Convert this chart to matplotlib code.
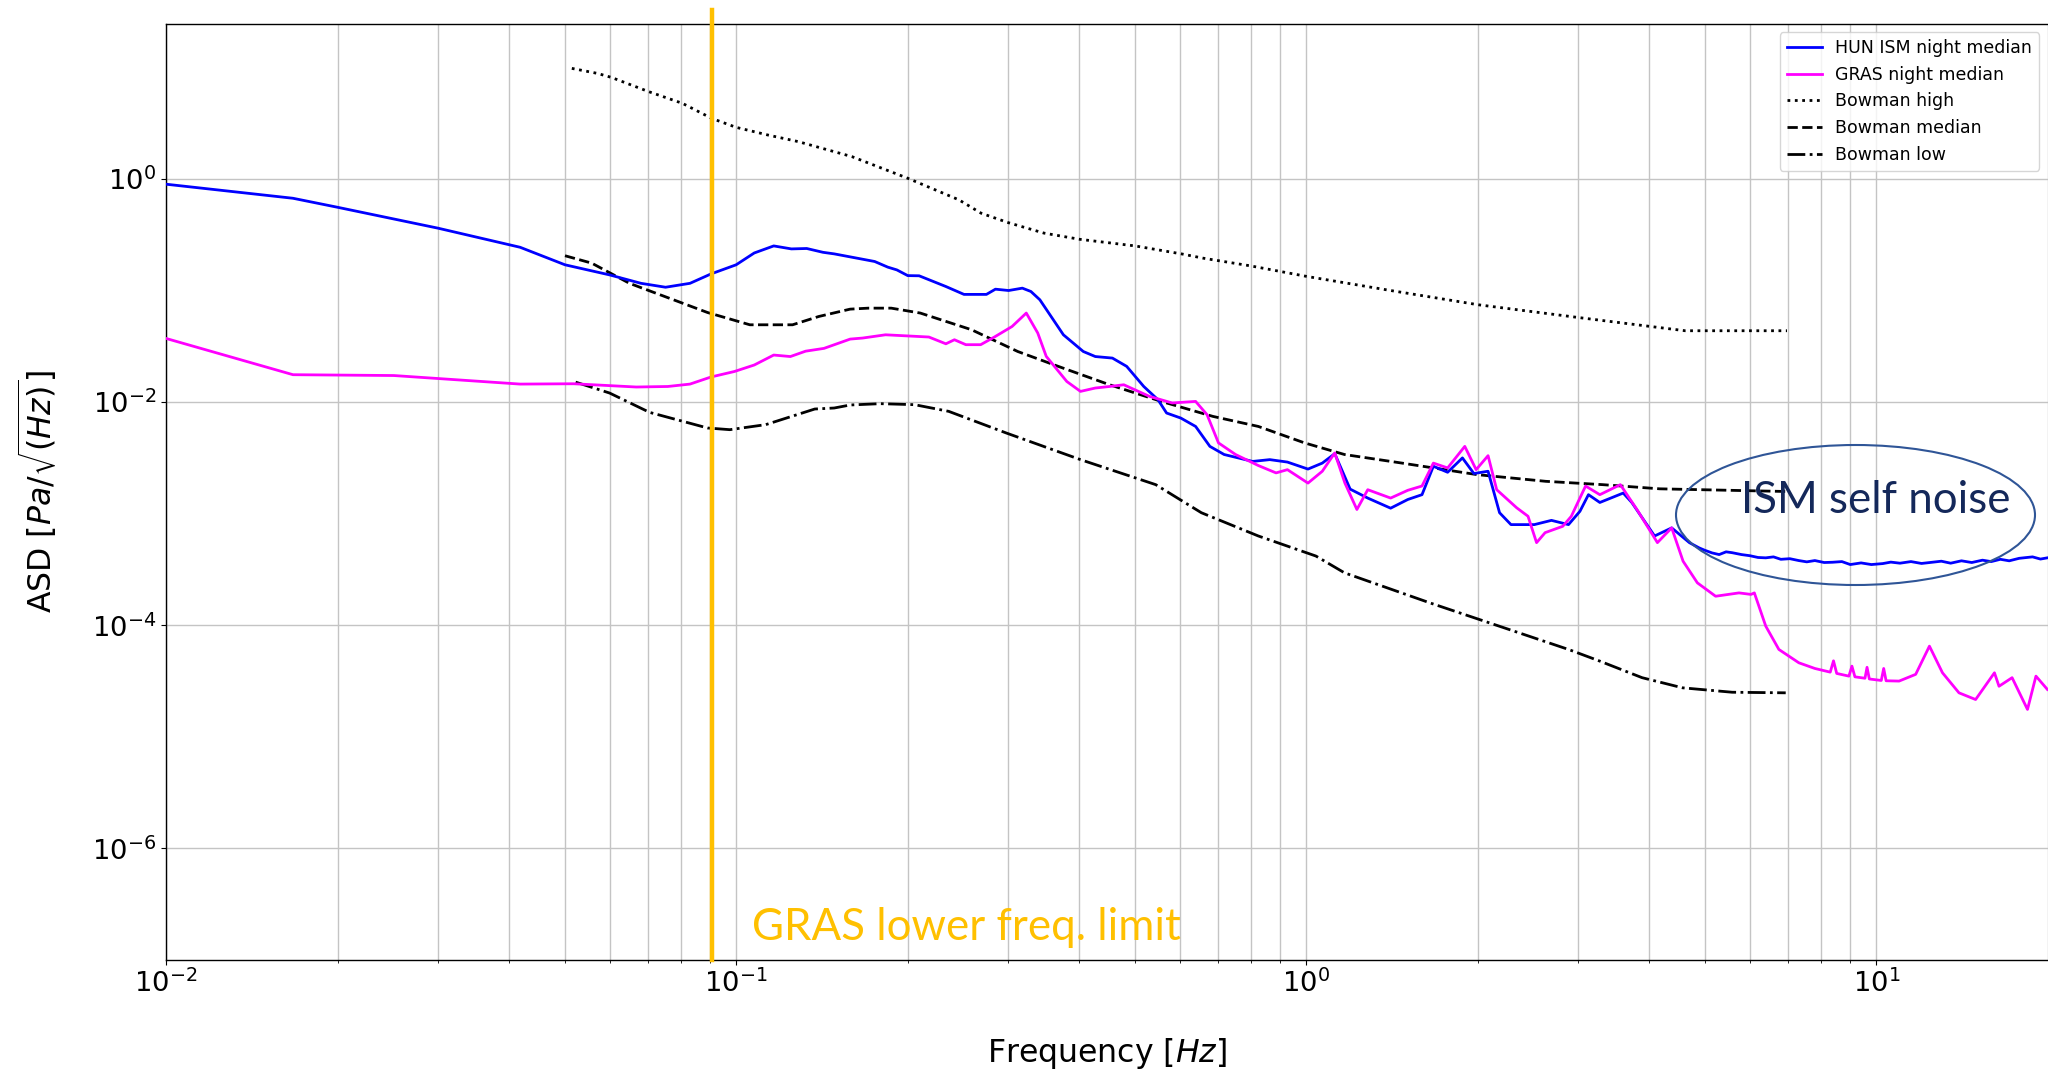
import matplotlib
matplotlib.use("Agg")
import matplotlib.pyplot as plt
from matplotlib.patches import Ellipse
from matplotlib.ticker import NullLocator

# ---------------- data ----------------
hun_freq = [0.0100, 0.0167, 0.0200, 0.0300, 0.0418, 0.0501, 0.0600, 0.0681, 0.0752, 0.0830,
            0.0904, 0.100, 0.1076, 0.1164, 0.125, 0.133, 0.142, 0.1486, 0.175, 0.1845,
            0.1914, 0.200, 0.2094, 0.2333, 0.251, 0.2748, 0.285, 0.3006, 0.3177, 0.3289,
            0.341, 0.375, 0.4064, 0.4266, 0.4571, 0.4842, 0.5188, 0.5495, 0.5689, 0.6026,
            0.6397, 0.6776, 0.7178, 0.8054, 0.863, 0.9268, 1.007, 1.067, 1.122, 1.194,
            1.282, 1.406, 1.507, 1.596, 1.671, 1.770, 1.879, 1.968, 2.084, 2.183,
            2.286, 2.512, 2.692, 2.884, 3.020, 3.126, 3.273, 3.597, 3.724, 4.083,
            4.375, 4.699, 4.887, 5.0, 5.15, 5.3, 5.45, 5.585, 5.8, 6.0,
            6.2, 6.397, 6.6, 6.8, 7.05, 7.31, 7.55, 7.8, 8.1, 8.375,
            8.7, 9.0, 9.4, 9.8, 10.26, 10.6, 11.0, 11.5, 12.0, 12.53,
            13.0, 13.5, 14.1, 14.7, 15.35, 15.9, 16.5, 17.1, 17.8, 18.79,
            19.4, 19.95]
hun_asd = [0.897, 0.671, 0.557, 0.362, 0.244, 0.170, 0.138, 0.116, 0.107, 0.116,
           0.141, 0.170, 0.217, 0.251, 0.236, 0.238, 0.220, 0.213, 0.182, 0.162,
           0.153, 0.136, 0.1355, 0.1086, 0.0923, 0.0923, 0.1028, 0.100, 0.105, 0.098,
           0.0826, 0.0401, 0.0284, 0.0256, 0.0248, 0.0209, 0.0138, 0.0105, 0.00798, 0.00719,
           0.00605, 0.00401, 0.00339, 0.00294, 0.00305, 0.00290, 0.00251, 0.00284, 0.00345, 0.00166,
           0.00138, 0.00112, 0.00134, 0.00148, 0.00266, 0.00235, 0.00316, 0.00229, 0.00240, 0.00102,
           0.000798, 0.000798, 0.000871, 0.000798, 0.00105, 0.00148, 0.00126, 0.00153, 0.00126, 0.000631,
           0.000746, 0.000550, 0.000494, 0.00047, 0.000445, 0.00043, 0.000455, 0.000447, 0.00043, 0.00042,
           0.000405, 0.000402, 0.00041, 0.00039, 0.000395, 0.00038, 0.00037, 0.00038, 0.000365, 0.000367,
           0.000372, 0.00035, 0.000362, 0.00035, 0.000357, 0.000368, 0.00036, 0.000372, 0.000358, 0.000367,
           0.000375, 0.00036, 0.000378, 0.000365, 0.000383, 0.000372, 0.00039, 0.000378, 0.000398, 0.000410,
           0.000392, 0.000402]

gras_freq = [0.0100, 0.0167, 0.0251, 0.0418, 0.0519, 0.0668, 0.0759, 0.0830, 0.0904, 0.0993,
             0.1076, 0.1164, 0.1245, 0.1324, 0.1426, 0.1585, 0.1667, 0.1828, 0.2178, 0.2333,
             0.2415, 0.2529, 0.2685, 0.2838, 0.3048, 0.3228, 0.3381, 0.3499, 0.3802, 0.4018,
             0.4266, 0.4519, 0.4786, 0.5309, 0.5821, 0.6397, 0.6699, 0.7015, 0.7516, 0.8241,
             0.8851, 0.9268, 1.007, 1.067, 1.122, 1.169, 1.227, 1.282, 1.406, 1.507,
             1.596, 1.671, 1.770, 1.897, 1.986, 2.084, 2.158, 2.339, 2.449, 2.535,
             2.624, 2.818, 2.917, 3.090, 3.273, 3.556, 3.802, 4.130, 4.375, 4.581,
             4.853, 5.224, 5.741, 6.026, 6.109, 6.397, 6.745, 7.311, 7.8, 8.30,
             8.41, 8.52, 8.95, 9.06, 9.17, 9.55, 9.63, 9.72, 10.2, 10.3,
             10.4, 10.96, 11.72, 12.39, 13.06, 13.96, 14.93, 16.11, 16.41, 17.30,
             18.41, 19.05, 19.95]
gras_asd = [0.0372, 0.0176, 0.0173, 0.0145, 0.0146, 0.01365, 0.0138, 0.0145, 0.0168, 0.0188,
            0.0215, 0.0264, 0.0256, 0.0286, 0.0303, 0.0367, 0.0375, 0.0401, 0.0383, 0.0333,
            0.0362, 0.0327, 0.0327, 0.0383, 0.0476, 0.0628, 0.0416, 0.0257, 0.0153, 0.01247,
            0.01337, 0.0138, 0.0143, 0.01125, 0.00982, 0.01014, 0.00771, 0.00431, 0.00339, 0.00270,
            0.00232, 0.00248, 0.00188, 0.00240, 0.00350, 0.00188, 0.00109, 0.00164, 0.00138, 0.00162,
            0.00177, 0.00284, 0.00257, 0.00401, 0.00248, 0.00331, 0.00164, 0.00113, 0.000948, 0.000550,
            0.000676, 0.000771, 0.000948, 0.00177, 0.00148, 0.00182, 0.00109, 0.000550, 0.000746, 0.000375,
            0.000240, 0.000182, 0.000195, 0.000189, 0.000195, 0.0000982, 0.0000607, 0.0000461, 0.0000410, 0.0000380,
            0.0000480, 0.0000370, 0.0000350, 0.0000430, 0.0000345, 0.0000335, 0.0000420, 0.0000330, 0.0000320, 0.0000410,
            0.0000318, 0.0000316, 0.0000363, 0.0000650, 0.0000375, 0.0000248, 0.0000216, 0.0000375, 0.0000284, 0.0000339,
            0.0000176, 0.0000350, 0.0000266]

bowman_high_freq = [0.0515, 0.0571, 0.0604, 0.0703, 0.0805, 0.0906, 0.100, 0.1135, 0.1285, 0.1596,
                    0.200, 0.246, 0.269, 0.300, 0.3467, 0.40, 0.501, 0.607, 0.659, 0.80,
                    1.0, 1.406, 2.004, 3.0, 4.018, 4.62, 6.97]
bowman_high_asd = [9.79, 8.83, 8.13, 6.05, 4.76, 3.49, 2.90, 2.48, 2.16, 1.585,
                   1.014, 0.649, 0.493, 0.406, 0.327, 0.288, 0.251, 0.212, 0.195, 0.166,
                   0.134, 0.100, 0.0745, 0.0573, 0.0476, 0.0436, 0.0436]

bowman_med_freq = [0.0501, 0.0558, 0.065, 0.0891, 0.1057, 0.1256, 0.1396, 0.1585, 0.1706, 0.1871,
                   0.2104, 0.2588, 0.3119, 0.3673, 0.4519, 0.557, 0.6855, 0.8241, 0.993, 1.167,
                   1.472, 1.991, 2.63, 3.311, 4.169, 6.97]
bowman_med_asd = [0.205, 0.176, 0.116, 0.0635, 0.0493, 0.0493, 0.0585, 0.0681, 0.0695, 0.0695,
                  0.0628, 0.0445, 0.0284, 0.0209, 0.0143, 0.01014, 0.00745, 0.00605, 0.00431, 0.00339,
                  0.00284, 0.00224, 0.00195, 0.00182, 0.00167, 0.00158]

bowman_low_freq = [0.0523, 0.060, 0.0705, 0.0891, 0.0975, 0.1127, 0.1374, 0.1486, 0.1585, 0.179,
                   0.2056, 0.236, 0.2979, 0.4018, 0.5445, 0.6546, 0.8241, 1.040, 1.167, 1.652,
                   2.884, 3.266, 3.882, 4.571, 5.585, 6.934]
bowman_low_asd = [0.0151, 0.01205, 0.00809, 0.00586, 0.00566, 0.00628, 0.00867, 0.00885, 0.00942, 0.00968,
                  0.00948, 0.00826, 0.00528, 0.00305, 0.00182, 0.00102, 0.000631, 0.000417, 0.000295, 0.000158,
                  0.0000607, 0.0000479, 0.0000339, 0.0000275, 0.0000251, 0.0000248]

gras_limit_freq = 0.0908
series_labels = ["HUN ISM night median", "GRAS night median", "Bowman high",
                 "Bowman median", "Bowman low"]
y_ticks = [1e-6, 1e-4, 1e-2, 1e0]

# ---------------- figure ----------------
W, H = 2048, 1073
fig = plt.figure(figsize=(W / 100, H / 100), dpi=100)
ax_left, ax_right, ax_top, ax_bottom = 166, 2048, 23.5, 960
ax = fig.add_axes([ax_left / W, 1 - ax_bottom / H, (ax_right - ax_left) / W,
                   (ax_bottom - ax_top) / H])

lw = 2.0
ax.plot(hun_freq, hun_asd, color="#0000ff", lw=lw, label=series_labels[0], zorder=3)
ax.plot(gras_freq, gras_asd, color="#ff00ff", lw=lw, label=series_labels[1], zorder=3)
ax.plot(bowman_high_freq, bowman_high_asd, color="black", lw=lw, ls=":", label=series_labels[2])
ax.plot(bowman_med_freq, bowman_med_asd, color="black", lw=lw, ls="--", label=series_labels[3])
ax.plot(bowman_low_freq, bowman_low_asd, color="black", lw=lw, ls="-.", label=series_labels[4])

ax.set_xscale("log")
ax.set_yscale("log")
ax.set_xlim(0.01, 20)
ax.set_ylim(1e-7, 10 ** 1.393)
ax.set_yticks(y_ticks)
ax.yaxis.set_minor_locator(NullLocator())

ax.grid(True, which="both", axis="x", color="#c4c4c4", lw=1.0)
ax.grid(True, which="major", axis="y", color="#c4c4c4", lw=1.0)
ax.set_axisbelow(True)

ax.spines["right"].set_visible(False)
for s in ("left", "top", "bottom"):
    ax.spines[s].set_linewidth(1.0)

ax.tick_params(axis="both", which="major", labelsize=19.7)
ax.set_xlabel("Frequency [$Hz$]", fontsize=22.7, labelpad=27.5)
ax.set_ylabel("ASD [$Pa/\\sqrt{(Hz)}$]", fontsize=22.7, labelpad=24)

leg = ax.legend(loc="upper right", fontsize=12.5)

# orange vertical marker (overlay, extends above the axes)
ax.axvline(gras_limit_freq, ymin=0, ymax=(ax_bottom - 10.5) / (ax_bottom - ax_top),
           color="#FFC000", lw=3.2, clip_on=False, zorder=6)

fig.text(752 / W, 1 - 940 / H, "GRAS lower freq. limit", color="#FFC000",
         fontsize=31.6, family="Lato", ha="left", va="baseline")
fig.text(1741 / W, 1 - 513 / H, "ISM self noise", color="#14285a",
         fontsize=31.6, family="Lato", ha="left", va="baseline", zorder=7)
fig.add_artist(Ellipse((1855.5 / W, 1 - 515 / H), 359 / W, 140 / H,
                       transform=fig.transFigure, fill=False,
                       edgecolor="#2F5597", lw=1.5, zorder=7))

fig.savefig("out.png", dpi=100)
